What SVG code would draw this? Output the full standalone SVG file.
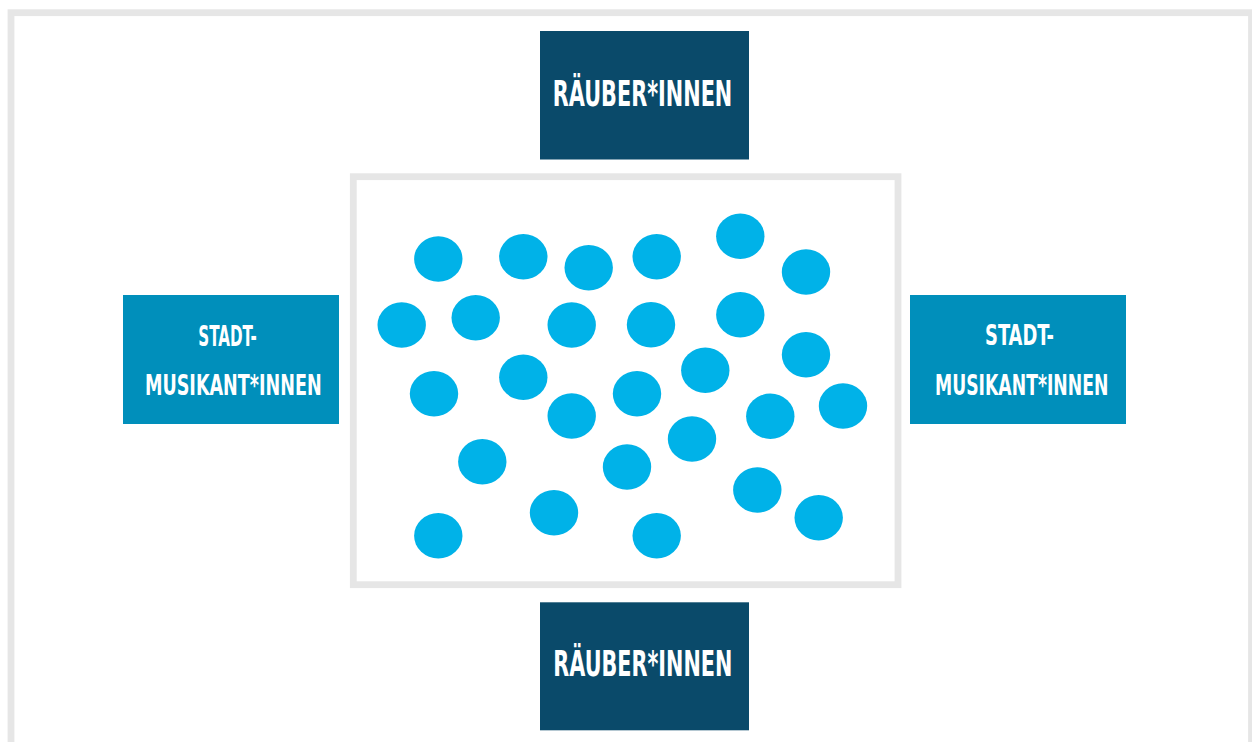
<svg xmlns="http://www.w3.org/2000/svg" width="1252" height="742" viewBox="0 0 1252 742">
<style>
.frame{fill:none;stroke:#e6e6e6;stroke-width:6.8}
.dark{fill:#0a4a6a}
.mid{fill:#008fbb}
.dot{fill:#00b2e8}
.lbl{fill:#ffffff;font-family:"DejaVu Sans Condensed","DejaVu Sans","Liberation Sans",sans-serif;font-stretch:condensed;font-weight:bold;text-anchor:middle}
.big{font-size:36px}
.small{font-size:29px}
</style>
<rect width="1252" height="742" fill="#ffffff"/>
<rect class="frame" x="11" y="12.7" width="1240.5" height="740"/>
<g id="crowd">
<rect class="frame" x="353.3" y="176.7" width="544.7" height="408"/>
<g id="dots">
<ellipse class="dot" cx="438.3" cy="259" rx="24.2" ry="22.7"/>
<ellipse class="dot" cx="523.3" cy="256.7" rx="24.2" ry="22.7"/>
<ellipse class="dot" cx="588.7" cy="267.7" rx="24.2" ry="22.7"/>
<ellipse class="dot" cx="656.7" cy="256.7" rx="24.2" ry="22.7"/>
<ellipse class="dot" cx="740.3" cy="236.3" rx="24.2" ry="22.7"/>
<ellipse class="dot" cx="806" cy="272" rx="24.2" ry="22.7"/>
<ellipse class="dot" cx="401.7" cy="325" rx="24.2" ry="22.7"/>
<ellipse class="dot" cx="475.7" cy="317.7" rx="24.2" ry="22.7"/>
<ellipse class="dot" cx="571.7" cy="325" rx="24.2" ry="22.7"/>
<ellipse class="dot" cx="651" cy="324.7" rx="24.2" ry="22.7"/>
<ellipse class="dot" cx="740.3" cy="314.7" rx="24.2" ry="22.7"/>
<ellipse class="dot" cx="806" cy="354.7" rx="24.2" ry="22.7"/>
<ellipse class="dot" cx="434" cy="393.7" rx="24.2" ry="22.7"/>
<ellipse class="dot" cx="523.3" cy="377.3" rx="24.2" ry="22.7"/>
<ellipse class="dot" cx="637" cy="393.7" rx="24.2" ry="22.7"/>
<ellipse class="dot" cx="705.3" cy="370.3" rx="24.2" ry="22.7"/>
<ellipse class="dot" cx="571.7" cy="416" rx="24.2" ry="22.7"/>
<ellipse class="dot" cx="770.3" cy="416.3" rx="24.2" ry="22.7"/>
<ellipse class="dot" cx="843" cy="406" rx="24.2" ry="22.7"/>
<ellipse class="dot" cx="482.3" cy="461.7" rx="24.2" ry="22.7"/>
<ellipse class="dot" cx="627" cy="467" rx="24.2" ry="22.7"/>
<ellipse class="dot" cx="692" cy="439" rx="24.2" ry="22.7"/>
<ellipse class="dot" cx="757.3" cy="490" rx="24.2" ry="22.7"/>
<ellipse class="dot" cx="554" cy="512.7" rx="24.2" ry="22.7"/>
<ellipse class="dot" cx="438.3" cy="535.7" rx="24.2" ry="22.7"/>
<ellipse class="dot" cx="656.7" cy="535.7" rx="24.2" ry="22.7"/>
<ellipse class="dot" cx="818.7" cy="517.7" rx="24.2" ry="22.7"/>
</g>
</g>
<g id="raeuber-top">
<rect class="dark" x="540" y="31" width="209" height="128.5"/>
<text class="lbl big" x="642.5" y="105.7" textLength="179.6" lengthAdjust="spacingAndGlyphs">RÄUBER*INNEN</text>
</g>
<g id="raeuber-bottom">
<rect class="dark" x="540" y="602.3" width="209" height="128"/>
<text class="lbl big" x="642.8" y="676" textLength="179" lengthAdjust="spacingAndGlyphs">RÄUBER*INNEN</text>
</g>
<g id="musikanten-left">
<rect class="mid" x="123" y="295" width="216" height="129"/>
<text class="lbl small" x="227.5" y="345.7" textLength="58.4" lengthAdjust="spacingAndGlyphs">STADT-</text>
<text class="lbl small" x="233.3" y="395" textLength="176.7" lengthAdjust="spacingAndGlyphs">MUSIKANT*INNEN</text>
</g>
<g id="musikanten-right">
<rect class="mid" x="910" y="295" width="216" height="129"/>
<text class="lbl small" x="1019.5" y="344.5" textLength="69" lengthAdjust="spacingAndGlyphs">STADT-</text>
<text class="lbl small" x="1021.7" y="395" textLength="173.3" lengthAdjust="spacingAndGlyphs">MUSIKANT*INNEN</text>
</g>
<g id="connectors"></g>
</svg>
